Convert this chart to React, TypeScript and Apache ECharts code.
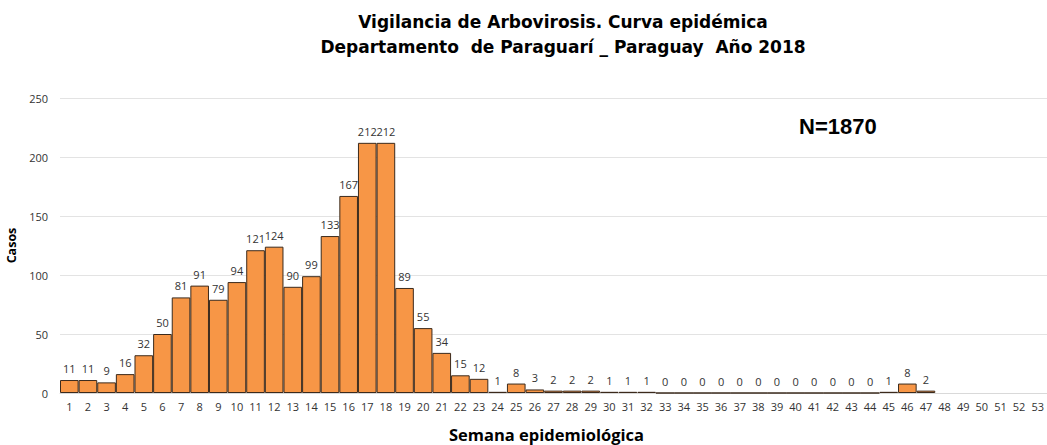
import React, { useEffect, useRef } from "react";
import * as echarts from "echarts";

const weeks: string[] = Array.from({ length: 53 }, (_, i) => String(i + 1));
const cases: (number | null)[] = [
  11, 11, 9, 16, 32, 50, 81, 91, 79, 94,
  121, 124, 90, 99, 133, 167, 212, 212, 89, 55,
  34, 15, 12, 1, 8, 3, 2, 2, 2, 1,
  1, 1, 0, 0, 0, 0, 0, 0, 0, 0,
  0, 0, 0, 0, 1, 8, 2, null, null, null,
  null, null, null,
];
const yTicks = [0, 50, 100, 150, 200, 250];
const titleLines = [
  "Vigilancia de Arbovirosis. Curva epidémica",
  "Departamento  de Paraguarí _ Paraguay  Año 2018",
];
const totalLabel = "N=1870";

export default function App() {
  const ref = useRef<HTMLDivElement>(null);
  useEffect(() => {
    if (!ref.current) return;
    const chart = echarts.init(ref.current, null, { renderer: "svg" });
    chart.setOption({
      animation: false,
      title: {
        text: titleLines.join("\n"),
        left: 558,
        textAlign: "center",
        top: 4,
        textStyle: {
          fontFamily: "DejaVu Sans",
          fontWeight: "bold",
          fontSize: 17,
          lineHeight: 25,
          color: "#000",
        },
      },
      graphic: [
        {
          type: "text",
          left: 799,
          top: 115,
          style: {
            text: totalLabel,
            font: "bold 22px 'Liberation Sans', sans-serif",
            fill: "#000",
          },
        },
      ],
      grid: {
        left: 60,
        right: 0,
        top: 98,
        bottom: 52,
        containLabel: false,
        outerBoundsMode: "none",
      },
      xAxis: {
        type: "category",
        data: weeks,
        name: "Semana epidemiológica",
        nameLocation: "middle",
        nameGap: 33,
        nameTextStyle: {
          fontFamily: "Open Sans",
          fontWeight: "bold",
          fontSize: 16.5,
          color: "#000",
          padding: [0, 14, 0, 0],
        },
        axisLine: { lineStyle: { color: "#d9d9d9" } },
        axisTick: { show: false },
        axisLabel: {
          interval: 0,
          fontFamily: "Open Sans",
          fontSize: 11,
          color: "#333",
          margin: 8,
        },
      },
      yAxis: {
        type: "value",
        min: 0,
        max: yTicks[yTicks.length - 1],
        interval: 50,
        name: "Casos",
        nameLocation: "middle",
        nameGap: 40,
        nameTextStyle: {
          fontFamily: "Open Sans",
          fontWeight: "bold",
          fontSize: 12.5,
          color: "#000",
        },
        axisLine: { show: false },
        axisTick: { show: false },
        axisLabel: {
          fontFamily: "Open Sans",
          fontSize: 11,
          color: "#333",
          margin: 12,
        },
        splitLine: { lineStyle: { color: "#e3e3e3" } },
      },
      series: [
        {
          type: "bar",
          data: cases,
          barCategoryGap: "0%",
          itemStyle: {
            color: "#F79646",
            borderColor: "#3b2a1c",
            borderWidth: 1,
          },
          label: {
            show: true,
            position: "top",
            distance: 6,
            fontFamily: "Open Sans",
            fontSize: 11,
            color: "#333",
          },
        },
      ],
    });
    return () => chart.dispose();
  }, []);
  return (
    <div
      ref={ref}
      style={{ position: "absolute", left: 0, top: 0, width: 1047, height: 445 }}
    />
  );
}
